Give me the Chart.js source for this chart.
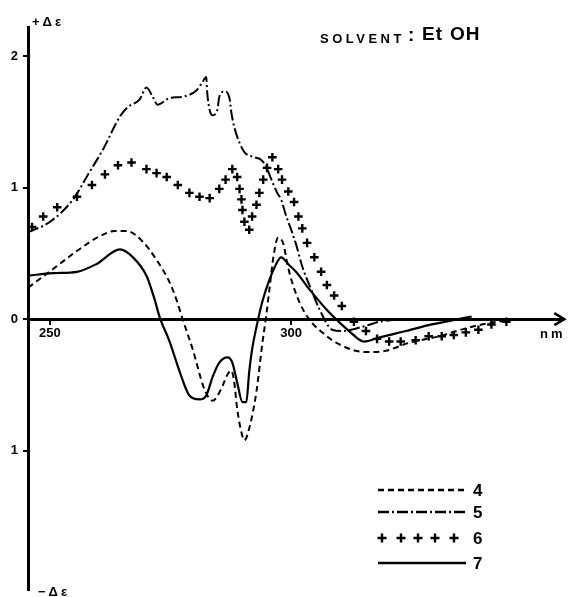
<!DOCTYPE html>
<html><head><meta charset="utf-8">
<script src="https://cdn.jsdelivr.net/npm/chart.js@4"></script>
<style>html,body{margin:0;padding:0;background:#fff}</style>
</head><body>
<canvas id="c" width="570" height="597"></canvas>
<script>
// ---- data (wavelength nm, delta epsilon) ----
const wl4 = [245.5,250.6,256.8,260.3,263.4,265.9,269.2,272.1,274.8,276.2,277.5,279.6,282.0,283.7,285.5,286.8,287.6,288.2,288.8,289.9,290.3,291.3,292.8,294.0,294.8,295.5,296.3,297.3,298.4,299.2,300.2,301.7,303.7,306.4,309.9,315.5,319.6,324.4,330.6,336.2,340.9,345.0];
const de4 = [0.24,0.38,0.55,0.63,0.67,0.67,0.59,0.45,0.28,0.15,0.00,-0.23,-0.53,-0.62,-0.53,-0.42,-0.39,-0.48,-0.68,-0.89,-0.92,-0.83,-0.55,-0.19,0.02,0.23,0.47,0.62,0.57,0.42,0.28,0.13,0.00,-0.10,-0.19,-0.25,-0.24,-0.18,-0.13,-0.07,-0.03,-0.01];

const wl5 = [245.5,250.0,254.8,257.9,261.0,264.5,266.1,268.6,270.0,271.3,272.3,274.8,277.5,280.4,281.6,282.4,282.6,283.1,283.7,284.7,285.1,286.2,287.2,287.6,288.2,289.3,290.3,292.4,293.8,294.8,295.9,297.1,297.9,299.0,300.0,301.0,302.3,304.1,305.8,308.5,310.5,315.5,318.2,322.3];
const de5 = [0.66,0.74,0.91,1.10,1.29,1.54,1.61,1.67,1.76,1.69,1.63,1.68,1.69,1.74,1.80,1.84,1.72,1.59,1.55,1.59,1.69,1.73,1.68,1.57,1.46,1.34,1.27,1.23,1.21,1.16,1.06,0.96,0.91,0.78,0.68,0.57,0.40,0.23,0.08,-0.08,-0.09,-0.05,-0.02,0.00];

const wl6 = [246.3,248.6,251.5,255.6,258.7,261.4,264.1,266.9,270.0,272.1,274.2,276.5,278.9,281.0,283.1,285.1,286.4,287.8,288.8,289.3,289.7,289.9,290.3,291.3,291.9,292.8,293.4,294.2,295.0,296.1,297.3,298.1,299.4,300.6,301.5,302.3,303.3,304.8,306.2,307.4,308.9,310.5,313.0,315.5,317.8,320.3,322.7,325.8,328.5,331.2,333.7,336.2,338.8,341.5,344.6];
const de6 = [0.70,0.78,0.85,0.93,1.02,1.10,1.17,1.19,1.14,1.11,1.08,1.02,0.96,0.93,0.92,0.99,1.06,1.14,1.08,0.99,0.91,0.83,0.74,0.68,0.78,0.87,0.96,1.06,1.15,1.23,1.14,1.06,0.97,0.89,0.78,0.69,0.58,0.47,0.36,0.26,0.18,0.10,-0.02,-0.09,-0.15,-0.17,-0.17,-0.16,-0.13,-0.13,-0.12,-0.10,-0.08,-0.04,-0.02];

const wl7 = [245.5,250.6,255.6,259.7,264.5,267.2,270.0,271.7,272.7,274.8,276.9,278.9,281.0,282.4,283.7,285.1,286.8,287.8,288.8,289.9,290.7,291.3,291.9,292.8,294.0,295.5,296.9,297.9,299.6,301.0,303.7,307.9,312.0,315.1,318.2,323.8,329.1,334.7,337.4];
const de7 = [0.33,0.35,0.36,0.42,0.53,0.47,0.33,0.15,0.02,-0.17,-0.40,-0.58,-0.61,-0.58,-0.44,-0.33,-0.29,-0.33,-0.48,-0.63,-0.63,-0.40,-0.23,-0.06,0.13,0.30,0.42,0.47,0.41,0.36,0.23,0.05,-0.09,-0.17,-0.14,-0.09,-0.04,0.00,0.02];

const seriesNames = ['4','5','6','7'];
const xTicks = [250, 300];
const yTicks = [-1, 0, 1, 2];

const FONT = '"Liberation Sans", Arial, sans-serif';
const pts = (xs, ys) => xs.map((x, i) => ({x, y: ys[i]}));

const DASH4 = [6, 4];
const DASH5 = [11, 3, 2, 3];

const decor = {
  id: 'decor',
  afterDraw(chart) {
    const ctx = chart.ctx, a = chart.chartArea;
    const y0 = chart.scales.y.getPixelForValue(0);
    ctx.save();
    ctx.strokeStyle = '#000'; ctx.fillStyle = '#000';
    // arrow head
    ctx.lineWidth = 2.5; ctx.setLineDash([]);
    ctx.beginPath();
    ctx.moveTo(a.right - 9, y0 - 6); ctx.lineTo(a.right + 1, y0); ctx.lineTo(a.right - 9, y0 + 6);
    ctx.stroke();
    ctx.textBaseline = 'alphabetic'; ctx.textAlign = 'left';
    // axis texts
    ctx.font = 'bold 13px ' + FONT;
    ctx.letterSpacing = '3px';
    ctx.fillText('+\u0394\u03B5', 32, 26);
    ctx.fillText('\u2212\u0394\u03B5', 38, 596);
    ctx.fillText('nm', 540, y0 + 19);
    // solvent
    ctx.font = 'bold 13px ' + FONT;
    ctx.letterSpacing = '3.5px';
    ctx.fillText('SOLVENT', 320, 43);
    ctx.letterSpacing = '1px';
    ctx.font = 'bold 19px ' + FONT;
    ctx.fillText(':', 408, 41);
    ctx.fillText('Et', 422, 40);
    ctx.fillText('OH', 450, 40);
    ctx.letterSpacing = '0px';
    // legend
    const ds = chart.data.datasets;
    const rows = [490, 512, 538, 563];
    ctx.font = 'bold 17px ' + FONT;
    ds.forEach((d, i) => {
      const yy = rows[i];
      ctx.lineWidth = 2.4;
      if (d.showLine === false) {
        [382, 401, 418, 435, 454].forEach(cx => {
          ctx.setLineDash([]);
          ctx.beginPath();
          ctx.moveTo(cx - 4.5, yy); ctx.lineTo(cx + 4.5, yy);
          ctx.moveTo(cx, yy - 4.5); ctx.lineTo(cx, yy + 4.5);
          ctx.stroke();
        });
      } else {
        ctx.setLineDash(d.borderDash || []);
        ctx.beginPath(); ctx.moveTo(378, yy); ctx.lineTo(466, yy); ctx.stroke();
      }
      ctx.setLineDash([]);
      ctx.fillText(seriesNames[i], 473, yy + 6);
    });
    ctx.restore();
  }
};

new Chart(document.getElementById('c'), {
  type: 'line',
  data: {
    datasets: [
      { label: seriesNames[0], data: pts(wl4, de4), borderColor: '#000', borderWidth: 2, borderDash: DASH4, pointRadius: 0, cubicInterpolationMode: 'monotone' },
      { label: seriesNames[1], data: pts(wl5, de5), borderColor: '#000', borderWidth: 2, borderDash: DASH5, pointRadius: 0, cubicInterpolationMode: 'monotone' },
      { label: seriesNames[2], data: pts(wl6, de6), showLine: false, borderColor: '#000', pointStyle: 'cross', pointRadius: 4.3, pointBorderWidth: 2.4, pointBorderColor: '#000' },
      { label: seriesNames[3], data: pts(wl7, de7), borderColor: '#000', borderWidth: 2.2, pointRadius: 0, cubicInterpolationMode: 'monotone' }
    ]
  },
  options: {
    responsive: false, animation: false, devicePixelRatio: 1,
    layout: { padding: { left: 0, right: 5, top: 27, bottom: 5 } },
    plugins: { legend: { display: false }, tooltip: { enabled: false } },
    scales: {
      x: {
        type: 'linear', min: 245.45, max: 356.4, position: { y: 0 },
        afterBuildTicks: s => { s.ticks = xTicks.map(v => ({ value: v })); },
        afterFit: s => { s.paddingLeft = 0; s.paddingRight = 0; },
        grid: { display: true, drawOnChartArea: false, drawTicks: true, tickLength: 4, color: '#000', lineWidth: 2 },
        border: { display: true, color: '#000', width: 3 },
        ticks: { color: '#000', font: { family: FONT, size: 13, weight: 'bold' }, padding: 2, maxRotation: 0, autoSkip: false }
      },
      y: {
        type: 'linear', min: -2.06, max: 2.22, position: 'left',
        afterFit: s => { s.width = 28; s.paddingTop = 0; s.paddingBottom = 0; },
        afterBuildTicks: s => { s.ticks = yTicks.map(v => ({ value: v })); },
        grid: { display: true, drawOnChartArea: false, drawTicks: true, tickLength: 5, color: '#000', lineWidth: 2 },
        border: { display: true, color: '#000', width: 3 },
        ticks: { color: '#000', font: { family: FONT, size: 13, weight: 'bold' }, padding: 5, callback: v => String(Math.abs(v)) }
      }
    }
  },
  plugins: [decor]
});
</script>
</body></html>
